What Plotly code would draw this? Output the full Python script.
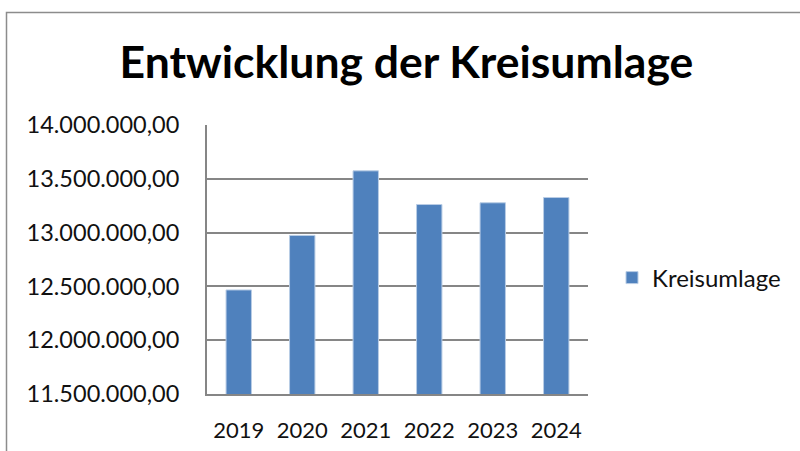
import plotly.graph_objects as go

years = ["2019", "2020", "2021", "2022", "2023", "2024"]
kreisumlage = [12467000, 12974000, 13574000, 13261000, 13277000, 13326000]
series_name = "Kreisumlage"
title_text = "Entwicklung der Kreisumlage"

FONT = "Lato"

fig = go.Figure()
fig.add_trace(go.Bar(
    x=years, y=kreisumlage, name=series_name,
    marker=dict(color="#4F81BD", line=dict(color="#B9CDE5", width=1)),
    showlegend=True,
))

fig.update_layout(
    width=800, height=451, autosize=False,
    margin=dict(l=207, r=212, t=125, b=57, autoexpand=False),
    paper_bgcolor="white", plot_bgcolor="white",
    separators=",.",
    font=dict(family=FONT, size=21, color="#111"),
    title=dict(text=f"<b>{title_text}</b>", x=0.508, xanchor="center",
               y=0.862, yanchor="middle", font=dict(family=FONT, size=44.5, color="#000")),
    bargap=0.6,
    showlegend=True,
    legend=dict(x=(612 - 207) / 381, y=1 - (278 - 125) / 269, xanchor="left", yanchor="middle",
                font=dict(family=FONT, size=24, color="#111"), bgcolor="rgba(0,0,0,0)"),
    shapes=[dict(type="rect", xref="paper", yref="paper",
                 x0=(6.5 - 207) / 381, x1=(820 - 207) / 381,
                 y0=(451 - 470 - 57) / 269, y1=(451 - 12.5 - 57) / 269,
                 line=dict(color="#8C8C8C", width=1.5), layer="below")],
)
fig.update_yaxes(range=[11.5e6, 14e6], dtick=5e5, tickformat=",.2f",
                 tickfont=dict(size=23.5), automargin=False,
                 showgrid=True, gridcolor="#868686", gridwidth=2,
                 showline=True, linecolor="#868686", linewidth=2,
                 ticks="", ticklabelstandoff=21, zeroline=False)
fig.update_xaxes(showline=True, linecolor="#868686", linewidth=2,
                 tickfont=dict(size=22), automargin=False,
                 ticks="", ticklabelstandoff=16, showgrid=False)

fig.write_html("out.html", config={"displayModeBar": False},
               post_script="document.body.style.margin='0';")
